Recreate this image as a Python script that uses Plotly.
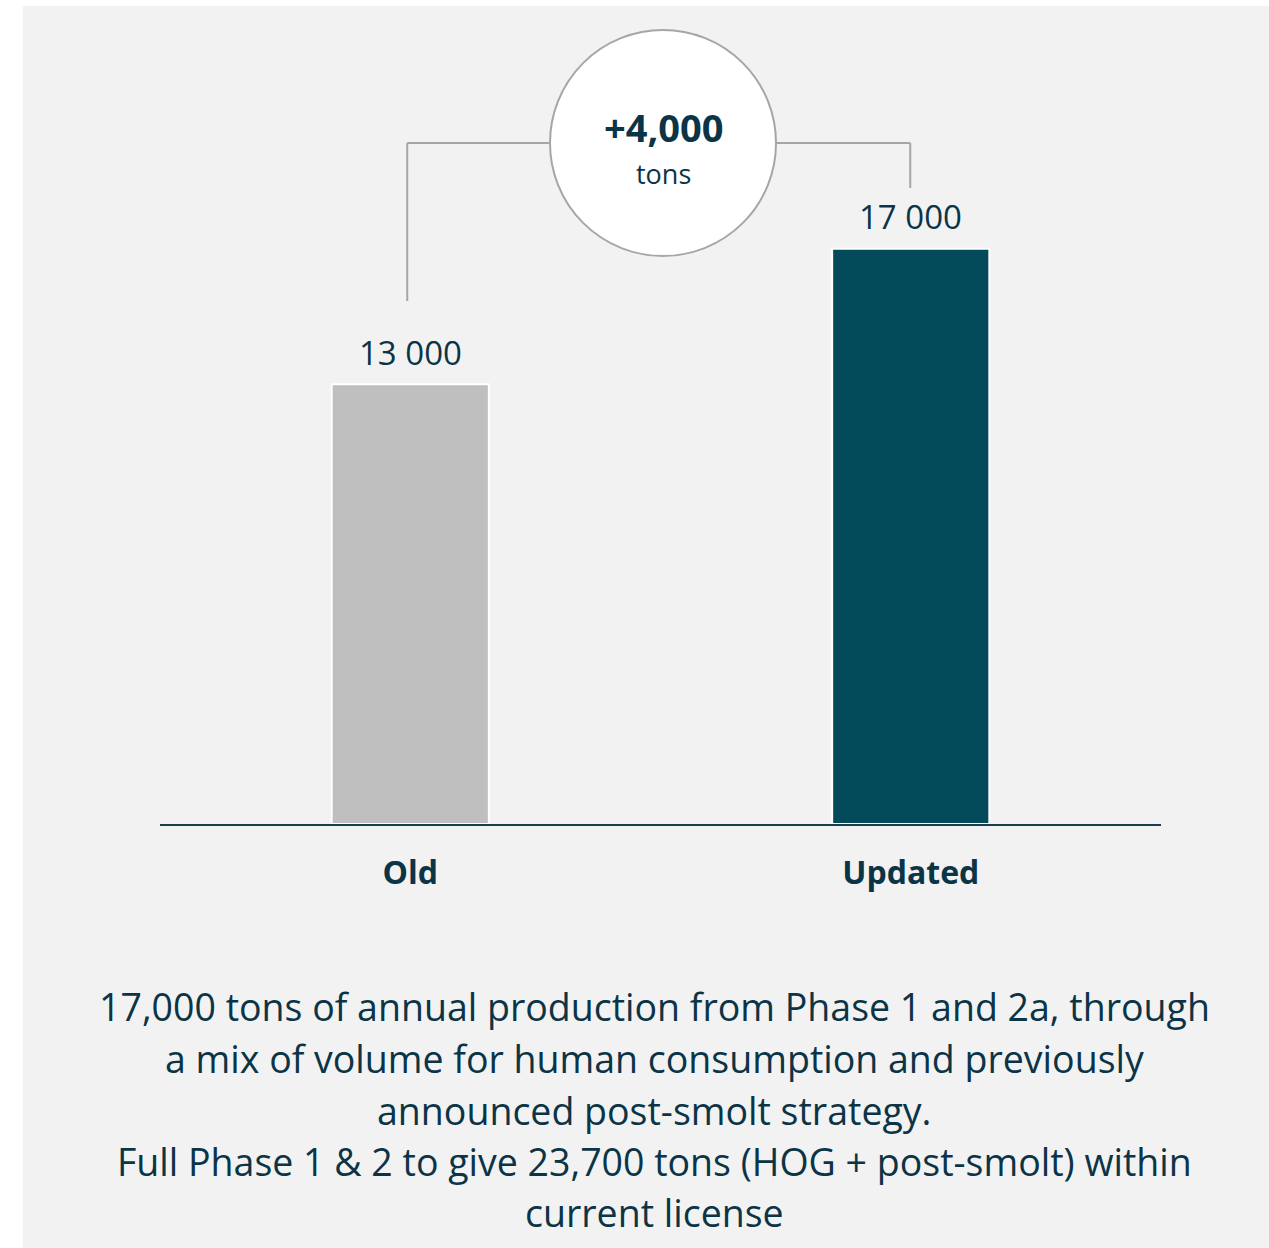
import plotly.graph_objects as go

categories = ["Old", "Updated"]
values = [13000, 17000]
bar_colors = ["#bfbfbf", "#034a5a"]
delta_value = "+4,000"
delta_unit = "tons"
footnote_lines = [
    "17,000 tons of annual production from Phase 1 and 2a, through",
    "a mix of volume for human consumption and previously",
    "announced post-smolt strategy.",
    "Full Phase 1 & 2 to give 23,700 tons (HOG + post-smolt) within",
    "current license",
]

TEXT = "#0b3446"
FONT = "Open Sans"
W, H = 1269, 1248
L, R, T, B = 160, 108, 12, 424
YMAX = 24000
plot_h = H - T - B


def py_to_paper(py):
    return (H - B - py) / plot_h


def py_to_val(py):
    return (H - B - py) / plot_h * YMAX


fig = go.Figure()
fig.add_trace(go.Bar(
    x=categories, y=values, width=0.314,
    marker=dict(color=bar_colors, line=dict(color="white", width=2)),
    hoverinfo="skip",
))

shapes = []
# gray panel
shapes.append(dict(type="rect", xref="paper", yref="paper", layer="below",
                   x0=(23 - L) / (W - L - R), x1=(W + 5 - L) / (W - L - R),
                   y0=py_to_paper(H + 5), y1=py_to_paper(6),
                   fillcolor="#f2f2f2", line=dict(width=0)))
# connectors
conn_y = py_to_val(143)
line_style = dict(color="#a6a6a6", width=2)
shapes.append(dict(type="line", xref="x", yref="y", x0=-0.006, x1=-0.006,
                   y0=py_to_val(301), y1=conn_y, line=line_style))
shapes.append(dict(type="line", xref="x", yref="y", x0=-0.006, x1=0.5,
                   y0=conn_y, y1=conn_y, line=line_style))
shapes.append(dict(type="line", xref="x", yref="y", x0=0.5, x1=0.999,
                   y0=conn_y, y1=conn_y, line=line_style))
shapes.append(dict(type="line", xref="x", yref="y", x0=0.999, x1=0.999,
                   y0=py_to_val(188), y1=conn_y, line=line_style))
# circle
shapes.append(dict(type="circle", xref="x", yref="y",
                   xsizemode="pixel", ysizemode="pixel",
                   xanchor=0.505, yanchor=conn_y,
                   x0=-113, x1=113, y0=-113, y1=113,
                   fillcolor="white", line=dict(color="#a6a6a6", width=2)))

annotations = []
for c, v in zip(categories, values):
    annotations.append(dict(x=c, y=v, xref="x", yref="y",
                            text=f"{v:,}".replace(",", " "), showarrow=False,
                            yanchor="middle", yshift=32,
                            font=dict(family=FONT, size=33, color=TEXT)))
annotations.append(dict(x=0.505, y=py_to_val(127), xref="x", yref="y",
                        text=f"<b>{delta_value}</b>", showarrow=False,
                        yanchor="middle", font=dict(family=FONT, size=38, color=TEXT)))
annotations.append(dict(x=0.505, y=py_to_val(173), xref="x", yref="y",
                        text=delta_unit, showarrow=False,
                        yanchor="middle", font=dict(family=FONT, size=27, color=TEXT)))
line_centers = [1007, 1058, 1110, 1161, 1212]
for txt, cy in zip(footnote_lines, line_centers):
    annotations.append(dict(x=(654 - L) / (W - L - R), y=py_to_paper(cy),
                            xref="paper", yref="paper", text=txt,
                            showarrow=False, xanchor="center", yanchor="middle",
                            font=dict(family=FONT, size=37.5, color=TEXT)))

fig.update_layout(
    width=W, height=H,
    margin=dict(l=L, r=R, t=T, b=B),
    paper_bgcolor="white", plot_bgcolor="rgba(0,0,0,0)",
    showlegend=False,
    shapes=shapes, annotations=annotations,
    xaxis=dict(range=[-0.5, 1.5], tickvals=categories,
               ticktext=[f"<b>{c}</b>" for c in categories],
               tickfont=dict(family=FONT, size=32, color=TEXT),
               showline=True, linecolor="#17404f", linewidth=2,
               showgrid=False, zeroline=False, ticks="", ticklabelstandoff=20),
    yaxis=dict(range=[0, YMAX], visible=False, showgrid=False, zeroline=False),
    font=dict(family=FONT, color=TEXT),
)

fig.write_html("out.html")
